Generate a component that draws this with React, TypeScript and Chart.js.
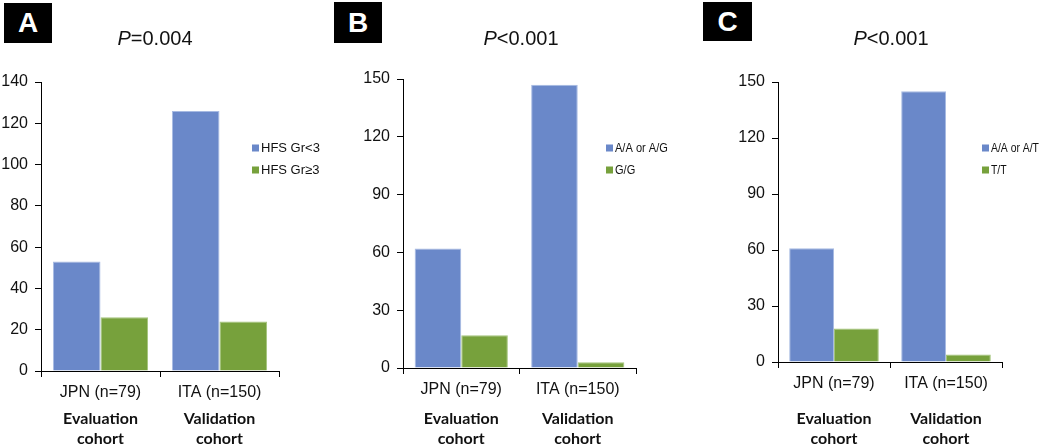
import React, { useEffect, useRef } from "react";
import { Chart, registerables } from "chart.js";

Chart.register(...registerables);

// ---------- data ----------
const categories = ["JPN (n=79)", "ITA (n=150)"];
const cohortLines = [
  ["Evaluation", "cohort"],
  ["Validation", "cohort"],
];

const panelLetters = ["A", "B", "C"];
const pValueText = ["=0.004", "<0.001", "<0.001"];

const seriesNamesA = ["HFS Gr<3", "HFS Gr\u22653"];
const hfsBelow3 = [53, 126];
const hfsAtLeast3 = [26, 24];
const yTicksA = [0, 20, 40, 60, 80, 100, 120, 140];

const seriesNamesB = ["A/A or A/G", "G/G"];
const genoB_AA_AG = [62, 147];
const genoB_GG = [17, 3];
const yTicksB = [0, 30, 60, 90, 120, 150];

const seriesNamesC = ["A/A or A/T", "T/T"];
const genoC_AA_AT = [61, 145];
const genoC_TT = [18, 4];
const yTicksC = [0, 30, 60, 90, 120, 150];

// ---------- styles ----------
const BLUE = "#6A88C9";
const GREEN = "#77A13C";
const SANS = '"Liberation Sans", Arial, sans-serif';

const overlayPlugin = {
  id: "overlay",
  afterDraw(chart: any, _args: any, opts: any) {
    const ctx = chart.ctx;
    const xs = chart.scales.x;
    ctx.save();
    ctx.font = 'bold 16px Lato, "Open Sans", sans-serif';
    ctx.fillStyle = "#111";
    ctx.textAlign = "center";
    ctx.textBaseline = "middle";
    cohortLines.forEach((lines, i) => {
      const x = xs.getPixelForValue(i);
      lines.forEach((t, j) => ctx.fillText(t, x, opts.cohortY[j]));
    });
    chart.data.datasets.forEach((ds: any, i: number) => {
      const y = opts.legendY[i];
      ctx.fillStyle = ds.backgroundColor;
      ctx.fillRect(opts.legendX, y - 3.5, 7, 7);
      ctx.fillStyle = "#111";
      ctx.font = "13px " + SANS;
      ctx.textAlign = "left";
      ctx.textBaseline = "middle";
      ctx.save();
      ctx.translate(opts.legendX + 9, y);
      ctx.scale(opts.textScale, 1);
      ctx.fillText(ds.label, 0, 0);
      ctx.restore();
    });
    ctx.restore();
  },
};

type PanelProps = {
  left: number;
  width: number;
  yWidth: number;
  top: number;
  bottom: number;
  right: number;
  ticks: number[];
  names: string[];
  s1: number[];
  s2: number[];
  legendX: number;
  textScale: number;
};

function Panel(p: PanelProps) {
  const ref = useRef<HTMLCanvasElement | null>(null);
  useEffect(() => {
    if (!ref.current) return;
    const step = p.ticks[1] - p.ticks[0];
    const chart = new Chart(ref.current, {
      type: "bar",
      data: {
        labels: categories,
        datasets: [
          {
            label: p.names[0],
            data: p.s1,
            backgroundColor: BLUE,
            borderColor: "#A7BAE2",
            borderWidth: 1,
            borderSkipped: "bottom",
            categoryPercentage: 0.8,
            barPercentage: 1.0,
          },
          {
            label: p.names[1],
            data: p.s2,
            backgroundColor: GREEN,
            borderColor: "#A3C47A",
            borderWidth: 1,
            borderSkipped: "bottom",
            categoryPercentage: 0.8,
            barPercentage: 1.0,
          },
        ],
      },
      plugins: [overlayPlugin],
      options: {
        responsive: false,
        animation: false,
        devicePixelRatio: 1,
        layout: {
          padding: {
            top: p.top,
            right: p.width - (p.right - p.left),
            bottom: 0,
            left: 0,
          },
        },
        plugins: {
          legend: { display: false },
          tooltip: { enabled: false },
          overlay: {
            legendX: p.legendX - p.left,
            legendY: [148, 170],
            cohortY: [419, 439],
            textScale: p.textScale,
          },
        } as any,
        scales: {
          x: {
            type: "category",
            offset: true,
            grid: {
              offset: true,
              drawOnChartArea: false,
              drawTicks: true,
              tickLength: 6,
              color: "#000",
              lineWidth: 1,
            },
            border: { display: true, color: "#000", width: 1 },
            ticks: {
              font: { family: SANS, size: 16 },
              color: "#111",
              padding: 6,
              maxRotation: 0,
              autoSkip: false,
            },
            afterFit: (s: any) => {
              s.height = 445 - p.bottom;
            },
          },
          y: {
            min: p.ticks[0],
            max: p.ticks[p.ticks.length - 1],
            ticks: {
              stepSize: step,
              font: { family: SANS, size: 16 },
              color: "#111",
              padding: 7,
            },
            grid: {
              drawOnChartArea: false,
              drawTicks: true,
              tickLength: 6,
              color: "#000",
              lineWidth: 1,
            },
            border: { display: true, color: "#000", width: 1 },
            afterFit: (s: any) => {
              s.width = p.yWidth;
            },
          },
        },
      },
    });
    return () => chart.destroy();
  }, []);
  return (
    <canvas
      ref={ref}
      width={p.width}
      height={445}
      style={{ position: "absolute", left: p.left, top: 0, width: p.width, height: 445 }}
    />
  );
}

function LetterBox({ x, y, w, h, letter }: any) {
  return (
    <div
      style={{
        position: "absolute",
        left: x,
        top: y,
        width: w,
        height: h,
        background: "#000",
        color: "#fff",
        font: "bold 28px " + SANS,
        display: "flex",
        alignItems: "center",
        justifyContent: "center",
      }}
    >
      {letter}
    </div>
  );
}

function PTitle({ cx, text }: any) {
  return (
    <div
      style={{
        position: "absolute",
        left: cx - 100,
        top: 27,
        width: 200,
        height: 20,
        lineHeight: "20px",
        textAlign: "center",
        font: "20px " + SANS,
        color: "#111",
        whiteSpace: "nowrap",
      }}
    >
      <i>P</i>
      {text}
    </div>
  );
}

export default function App() {
  return (
    <div
      style={{
        position: "absolute",
        left: 0,
        top: 0,
        width: 1050,
        height: 445,
        background: "#fff",
        overflow: "hidden",
      }}
    >
      <Panel
        left={0}
        width={340}
        yWidth={41}
        top={82}
        bottom={371}
        right={279}
        ticks={yTicksA}
        names={seriesNamesA}
        s1={hfsBelow3}
        s2={hfsAtLeast3}
        legendX={252}
        textScale={1}
      />
      <Panel
        left={340}
        width={350}
        yWidth={63}
        top={79}
        bottom={368}
        right={636}
        ticks={yTicksB}
        names={seriesNamesB}
        s1={genoB_AA_AG}
        s2={genoB_GG}
        legendX={606}
        textScale={0.85}
      />
      <Panel
        left={690}
        width={360}
        yWidth={88}
        top={82}
        bottom={362}
        right={1002}
        ticks={yTicksC}
        names={seriesNamesC}
        s1={genoC_AA_AT}
        s2={genoC_TT}
        legendX={982}
        textScale={0.8}
      />
      <LetterBox x={4} y={3} w={48} h={40} letter={panelLetters[0]} />
      <LetterBox x={334} y={2} w={48} h={41} letter={panelLetters[1]} />
      <LetterBox x={703} y={2} w={49} h={39} letter={panelLetters[2]} />
      <PTitle cx={155} text={pValueText[0]} />
      <PTitle cx={521} text={pValueText[1]} />
      <PTitle cx={891} text={pValueText[2]} />
    </div>
  );
}
